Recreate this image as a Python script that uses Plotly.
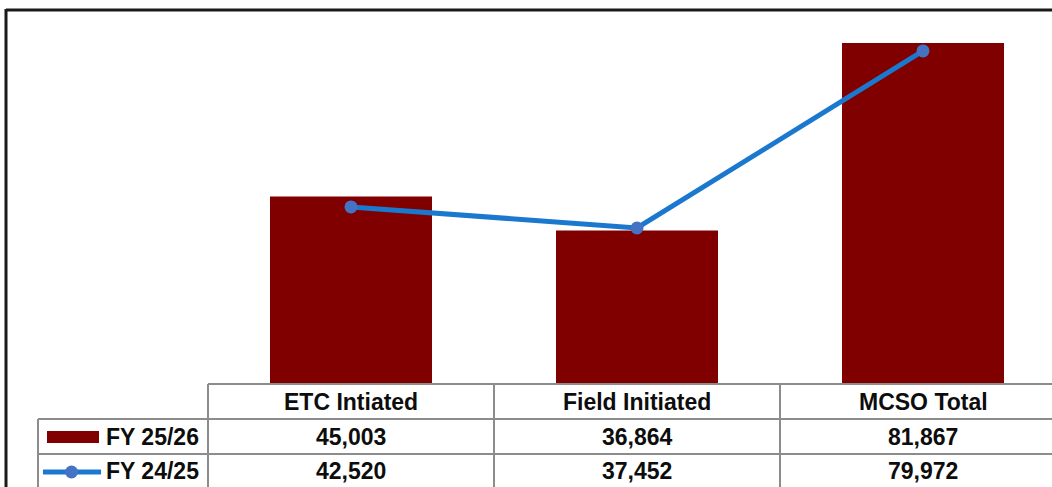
import plotly.graph_objects as go

# data
categories = ["ETC Intiated", "Field Initiated", "MCSO Total"]
fy2526 = [45003, 36864, 81867]
fy2425 = [42520, 37452, 79972]
series_names = ["FY 25/26", "FY 24/25"]

W, H = 1052, 487
BAR_COLOR = "#800000"
LINE_COLOR = "#1B78CF"
MARKER_COLOR = "#4472C4"
GRID = "#8c8c8c"
FONT = "Liberation Sans, Arial, sans-serif"


def px(x):
    return x / W


def py(y):
    return 1 - y / H


# axis geometry (pixels): category 0 centred at x=351, 286 px per category,
# value 0 at y=384, 81,867 reaches y=43
x0, step = 351, 286
y0, ytop = 384, 43
per_px = max(fy2526) / (y0 - ytop)

fig = go.Figure()

fig.add_trace(go.Bar(
    x=categories, y=fy2526, name=series_names[0],
    marker=dict(color=BAR_COLOR, line=dict(width=0)),
    width=162 / step, showlegend=False))

fig.add_trace(go.Scatter(
    x=categories, y=fy2425, name=series_names[1], mode="lines+markers",
    line=dict(color=LINE_COLOR, width=5),
    marker=dict(color=MARKER_COLOR, size=13),
    showlegend=False))

fig.update_xaxes(range=[(0 - x0) / step, (W - x0) / step], visible=False,
                 domain=[0, 1])
fig.update_yaxes(range=[-(H - y0) * per_px, y0 * per_px], visible=False,
                 domain=[0, 1])

shapes = []


def hline(x_a, x_b, y, color=GRID, width=2):
    shapes.append(dict(type="line", xref="paper", yref="paper",
                       x0=px(x_a), x1=px(x_b), y0=py(y), y1=py(y),
                       line=dict(color=color, width=width)))


def vline(x, y_a, y_b, color=GRID, width=2):
    shapes.append(dict(type="line", xref="paper", yref="paper",
                       x0=px(x), x1=px(x), y0=py(y_a), y1=py(y_b),
                       line=dict(color=color, width=width)))


# outer chart border
hline(6, W + 5, 10, color="#1a1a1a", width=3)
vline(6, 9, H + 5, color="#1a1a1a", width=3)

# data table grid
rows = [384, 419, 454]
hline(208, W + 5, rows[0])
hline(38, W + 5, rows[1])
hline(38, W + 5, rows[2])
vline(38, rows[1], H + 5)
vline(208, rows[0], H + 5)
for i in range(1, len(categories) + 1):
    vline(208 + step * i, rows[0], H + 5)

# legend keys
shapes.append(dict(type="rect", xref="paper", yref="paper",
                   x0=px(47), x1=px(99), y0=py(431), y1=py(443),
                   fillcolor=BAR_COLOR, line=dict(width=0)))
shapes.append(dict(type="line", xref="paper", yref="paper",
                   x0=px(43), x1=px(101), y0=py(472), y1=py(472),
                   line=dict(color=LINE_COLOR, width=5)))
shapes.append(dict(type="circle", xref="paper", yref="paper",
                   x0=px(65), x1=px(78), y0=py(465.5), y1=py(478.5),
                   fillcolor=MARKER_COLOR, line=dict(width=0)))

annotations = []
font = dict(family=FONT, size=23, color="#0d0d0d", weight="bold")
centers = [402, 437, 471]
for cat in categories:
    annotations.append(dict(x=cat, xref="x", y=py(centers[0]), yref="paper",
                            text=cat, showarrow=False, font=font,
                            xanchor="center", yanchor="middle"))
for r, vals in enumerate([fy2526, fy2425]):
    for cat, v in zip(categories, vals):
        annotations.append(dict(x=cat, xref="x", y=py(centers[r + 1]),
                                yref="paper", text=f"{v:,}",
                                showarrow=False, font=font,
                                xanchor="center", yanchor="middle"))
    annotations.append(dict(x=px(104), xref="paper", y=py(centers[r + 1]),
                            yref="paper", text=series_names[r],
                            xanchor="left", yanchor="middle",
                            showarrow=False, font=font))

fig.update_layout(
    width=W, height=H,
    margin=dict(l=0, r=0, t=0, b=0),
    paper_bgcolor="white", plot_bgcolor="white",
    shapes=shapes, annotations=annotations,
)

fig.write_html("out.html", config={"displayModeBar": False},
               post_script="document.body.style.margin='0';")
